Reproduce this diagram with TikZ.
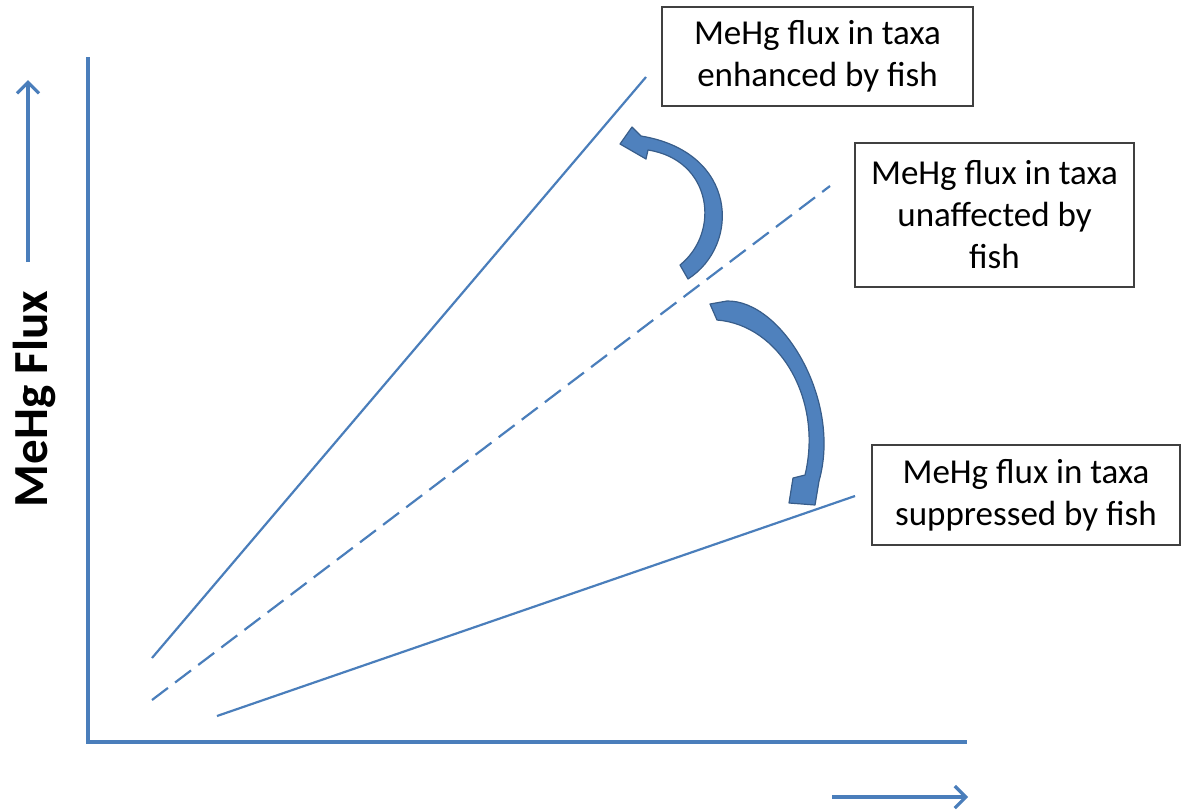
\documentclass[tikz,border=0pt]{standalone}
\usepackage{fontspec}
\setmainfont{Carlito}
\usetikzlibrary{arrows.meta,positioning}
\definecolor{axisblue}{HTML}{4A7EBB}
\definecolor{bendfill}{HTML}{4F81BD}
\definecolor{bendedge}{HTML}{385D8A}
\definecolor{boxedge}{HTML}{404040}
\tikzset{
  axis/.style={draw=axisblue,line width=2.3pt,line join=miter},
  trend/.style={draw=axisblue,line width=1.1pt},
  hint/.style={-{Straight Barb[length=5.5pt,width=11pt]},draw=axisblue,line width=1.6pt},
  labelbox/.style={draw=boxedge,line width=0.6pt,align=center,inner sep=0pt,
    font=\fontsize{17.5}{21}\selectfont},
  curvearrow/.style={fill=bendfill,draw=bendedge,line width=0.6pt,line join=round}
}
\begin{document}
\begin{tikzpicture}[x=0.5pt,y=-0.5pt]
  \useasboundingbox (0,0) rectangle (1181,809);
  % axes
  \coordinate (ytop) at (88,57);
  \coordinate (origin) at (88,742);
  \coordinate (xend) at (967,742);
  \draw[axis] (ytop) -- (origin) -- (xend);
  \coordinate (ybase) at (28,262);
  \coordinate (ytip) at (28,80);
  \draw[hint] (ybase) -- (ytip);
  \coordinate (xbase) at (832,797);
  \coordinate (xtip) at (968,797);
  \draw[hint] (xbase) -- (xtip);
  \node[rotate=90,font=\fontsize{24.5}{29}\selectfont\bfseries] (ylabel) at (34,399) {MeHg Flux};
  % trend lines
  \coordinate (enhA) at (152,658);
  \coordinate (enhB) at (646,77);
  \coordinate (unaA) at (152,700);
  \coordinate (unaB) at (830,186);
  \coordinate (supA) at (217,716);
  \coordinate (supB) at (855,496);
  \draw[trend] (enhA) -- (enhB);
  \draw[trend,dash pattern=on 10pt off 4.5pt] (unaA) -- (unaB);
  \draw[trend] (supA) -- (supB);
  % boxes
  \node[labelbox,minimum width=155.5pt,minimum height=49.5pt] (enhanced) at (817.5,56.5)
    {MeHg flux in taxa\\enhanced by fish};
  \node[labelbox,minimum width=139.5pt,minimum height=72pt] (unaffected) at (994.5,215)
    {MeHg flux in taxa\\unaffected by\\fish};
  \node[labelbox,minimum width=154pt,minimum height=50pt] (suppressed) at (1026,495)
    {MeHg flux in taxa\\suppressed by fish};
  % curved arrows
  \draw[curvearrow] (680,265) -- (688,279) .. controls (741,245) and (738,152) .. (641,136)
    -- (632,127) -- (620,144) -- (646,159) -- (648,150)
    .. controls (712,160) and (721,232) .. (680,265) -- cycle;
  \draw[curvearrow] (710,304) -- (727,301) .. controls (782,300) and (842,400) .. (819,481)
    -- (815,505) -- (789,503) -- (793,478) -- (805,475)
    .. controls (823,400) and (780,325) .. (717,320) -- cycle;
\end{tikzpicture}
\end{document}
